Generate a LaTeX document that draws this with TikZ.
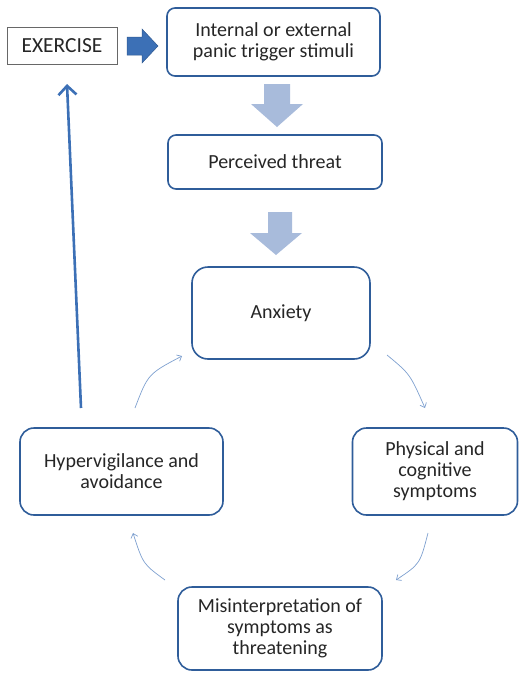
\documentclass[tikz,border=0pt]{standalone}
\usepackage{fontspec}
\setmainfont{Carlito}
\usetikzlibrary{arrows.meta}
\definecolor{boxblue}{HTML}{2F5D9A}
\definecolor{solidblue}{HTML}{3C70B6}
\definecolor{paleblue}{HTML}{A8BBDB}
\definecolor{thinblue}{HTML}{7EA0CF}
\definecolor{inkgray}{HTML}{262626}
\tikzset{
  roundbox/.style={draw=boxblue, line width=1.6pt, rounded corners=#1, fill=white,
    align=center, text=inkgray, font=\fontsize{20}{21}\selectfont, inner sep=2pt},
  roundbox/.default=8pt,
  plainbox/.style={draw=inkgray!70, line width=0.8pt, fill=white, text=inkgray,
    font=\fontsize{21.5}{23}\selectfont, inner sep=2pt},
  blockpale/.style={fill=paleblue, draw=none},
  blocksolid/.style={fill=solidblue, draw=solidblue!80!black, line width=0.5pt},
  cycle arrow/.style={draw=thinblue, line width=0.7pt, -{Straight Barb[length=4pt,width=7pt]}},
  return arrow/.style={draw=solidblue, line width=2.6pt, -{Straight Barb[length=9pt,width=18pt]}}
}
\begin{document}
\begin{tikzpicture}[x=1pt, y=-1pt]
\useasboundingbox (0,0) rectangle (520,673);

% boxes
\node[plainbox, minimum width=110pt, minimum height=37pt] (ex) at (62,45.5) {EXERCISE};
\node[roundbox, minimum width=213pt, minimum height=68pt] (trig) at (273.5,42)
  {Internal or external\\panic trigger stimuli};
\node[roundbox, minimum width=214pt, minimum height=54pt] (threat) at (275,162) {Perceived threat};
\node[roundbox=16pt, minimum width=178pt, minimum height=92pt] (anx) at (281,313) {Anxiety};
\node[roundbox=14pt, minimum width=203pt, minimum height=87pt] (hyp) at (121.5,471.5)
  {Hypervigilance and\\avoidance};
\node[roundbox=14pt, minimum width=165pt, minimum height=87pt] (phys) at (435,471.5)
  {Physical and\\cognitive\\symptoms};
\node[roundbox=14pt, minimum width=204pt, minimum height=83pt] (mis) at (280,628.5)
  {Misinterpretation of\\symptoms as\\threatening};

% block arrows
\draw[blocksolid] (127,37) -- (142,37) -- (142,29) -- (158,46) -- (142,63) -- (142,55)
  -- (127,55) -- cycle;
\fill[blockpale] (264,84) -- (290,84) -- (290,104) -- (303,104) -- (277,127) -- (251,104)
  -- (264,104) -- cycle;
\fill[blockpale] (268,212) -- (292,212) -- (292,233) -- (302,233) -- (276,255) -- (250,233)
  -- (268,233) -- cycle;

% return arrow to exercise
\coordinate (retstart) at (81,408);
\coordinate (retend) at (67,84);
\draw[return arrow] (retstart) -- (retend);

% cycle arrows
\coordinate (c1a) at (135,408); \coordinate (c1b) at (182,356);
\coordinate (c2a) at (387,355); \coordinate (c2b) at (425,408);
\coordinate (c3a) at (428,533); \coordinate (c3b) at (396,580);
\coordinate (c4a) at (165,580); \coordinate (c4b) at (133,533);
\draw[cycle arrow] (c1a) .. controls (148,374) .. (c1b);
\draw[cycle arrow] (c2a) .. controls (410,374) .. (c2b);
\draw[cycle arrow] (c3a) .. controls (420,564) .. (c3b);
\draw[cycle arrow] (c4a) .. controls (143,564) .. (c4b);
\end{tikzpicture}
\end{document}
